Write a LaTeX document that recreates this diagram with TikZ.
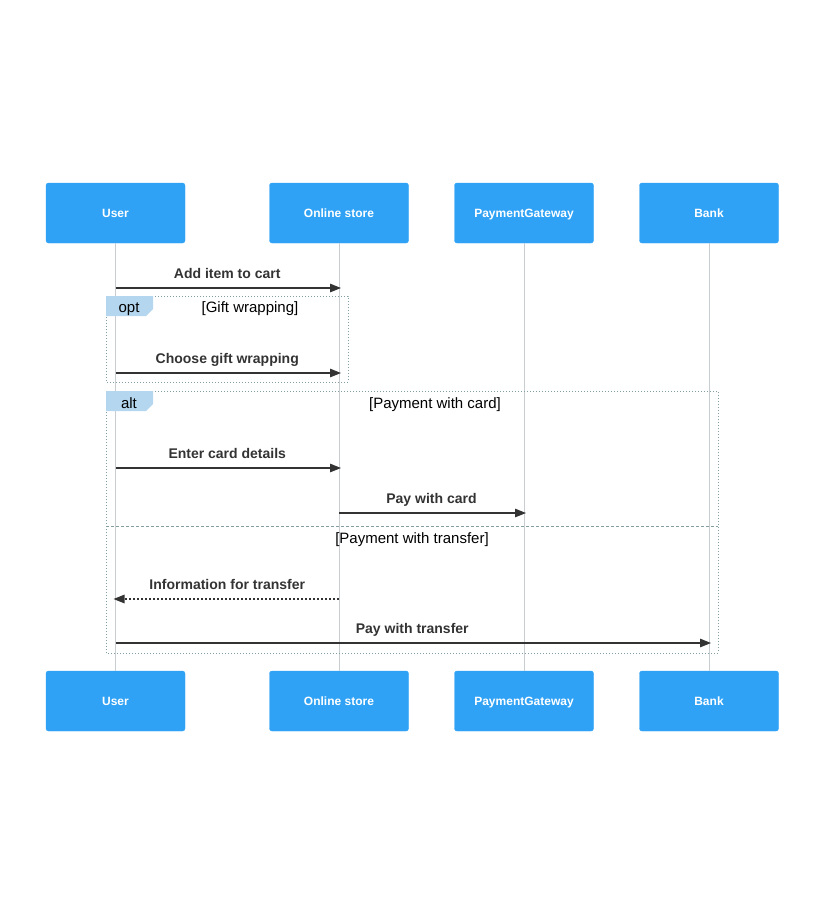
\documentclass[tikz,border=0pt]{standalone}
\usepackage{fontspec}
\setmainfont{Liberation Sans}
\usetikzlibrary{arrows.meta}
\definecolor{seqBlue}{RGB}{47, 162, 245}
\definecolor{seqTab}{RGB}{180, 214, 238}
\definecolor{seqFrame}{RGB}{130, 158, 160}
\definecolor{seqLine}{RGB}{200, 205, 210}
\definecolor{seqText}{RGB}{51, 51, 51}

\begin{document}
\begin{tikzpicture}[x=1pt, y=-1pt,
    actor/.style={draw=seqBlue, fill=seqBlue, rounded corners=2.5pt, minimum width=139pt,
        minimum height=60pt, text=white, inner sep=0pt, text height=8.6pt, text depth=0pt,
        font=\fontsize{12}{14}\selectfont\bfseries},
    life/.style={seqLine, line width=1pt},
    msg/.style={seqText, line width=1.3pt, shorten >=-2pt, -{Triangle[length=11pt, width=8.5pt]}},
    reply/.style={msg, dash pattern=on 2pt off 2pt},
    msgtext/.style={midway, anchor=base, yshift=10pt, inner sep=0pt, text=seqText,
        font=\fontsize{14}{16}\selectfont\bfseries},
    frame/.style={draw=seqFrame, line width=1pt, dotted},
    cond/.style={anchor=base, inner sep=0pt, text=black, font=\fontsize{15}{17}\selectfont}]
    \useasboundingbox (0,0) rectangle (824,906);

    % participants
    \node[actor] (userT) at (115.5,213) {User};
    \node[actor] (storeT) at (339,213) {Online store};
    \node[actor] (payT) at (524,213) {PaymentGateway};
    \node[actor] (bankT) at (709,213) {Bank};
    \node[actor] (userB) at (115.5,701) {User};
    \node[actor] (storeB) at (339,701) {Online store};
    \node[actor] (payB) at (524,701) {PaymentGateway};
    \node[actor] (bankB) at (709,701) {Bank};
    \draw[life] (userT) -- (userB);
    \draw[life] (storeT) -- (storeB);
    \draw[life] (payT) -- (payB);
    \draw[life] (bankT) -- (bankB);

    % frames
    \draw[frame] (106,296) rectangle (348,382);
    \fill[seqTab] (106,296) -- (153,296) -- (153,309) -- (146,316) -- (106,316) -- cycle;
    \node[cond] (optTag) at (129,312) {opt};
    \node[cond] (optCond) at (250,312) {[Gift wrapping]};
    \draw[frame] (106,391) rectangle (718,653);
    \fill[seqTab] (106,391) -- (153,391) -- (153,404) -- (146,411) -- (106,411) -- cycle;
    \node[cond] (altTag) at (129,408) {alt};
    \node[cond] (altCard) at (435,408) {[Payment with card]};
    \draw[seqFrame, line width=1pt, dash pattern=on 3pt off 2pt] (106,526) -- (718,526);
    \node[cond] (altTransfer) at (412,543) {[Payment with transfer]};

    % messages
    \coordinate (m1) at (0,288);
    \coordinate (m2) at (0,373);
    \coordinate (m3) at (0,468);
    \coordinate (m4) at (0,513);
    \coordinate (m5) at (0,599);
    \coordinate (m6) at (0,643);
    \draw[msg] (userT |- m1) -- node[msgtext] {Add item to cart} (storeT |- m1);
    \draw[msg] (userT |- m2) -- node[msgtext] {Choose gift wrapping} (storeT |- m2);
    \draw[msg] (userT |- m3) -- node[msgtext] {Enter card details} (storeT |- m3);
    \draw[msg] (storeT |- m4) -- node[msgtext] {Pay with card} (payT |- m4);
    \draw[reply] (storeT |- m5) -- node[msgtext] {Information for transfer} (userT |- m5);
    \draw[msg] (userT |- m6) -- node[msgtext] {Pay with transfer} (bankT |- m6);
\end{tikzpicture}
\end{document}
